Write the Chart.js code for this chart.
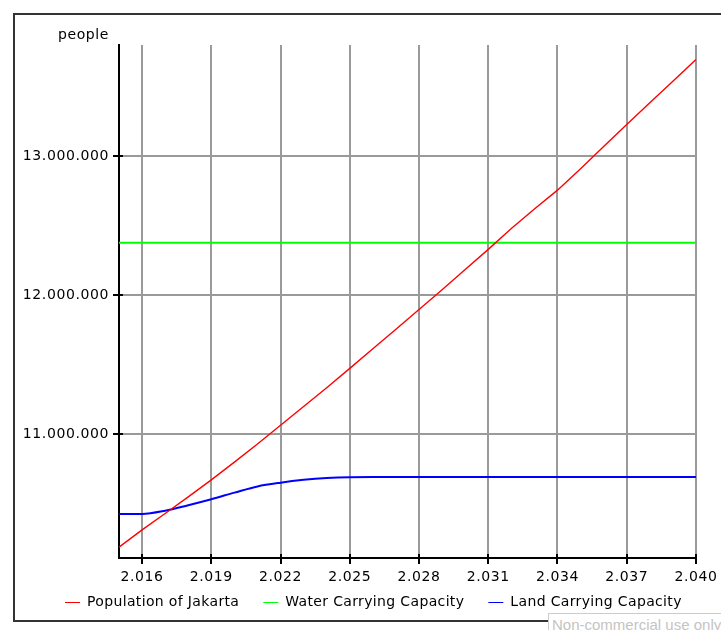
<!DOCTYPE html>
<html>
<head>
<meta charset="utf-8">
<script src="https://cdn.jsdelivr.net/npm/chart.js@4.4.1/dist/chart.umd.min.js"></script>
<style>
body { margin: 0; background: #fff; }
#wrap { position: relative; width: 721px; height: 630px; overflow: hidden; }
#frame { position: absolute; left: 13px; top: 13px; width: 730px; height: 605px; border: 2px solid #333; }
#myChart { position: absolute; left: 0; top: 0; }
#watermark { position: absolute; left: 548px; top: 613px; padding: 2px 3px; border: 1px solid #ccc; background: #fff; color: #c4c4c4; font: 15px "Liberation Sans"; line-height: 17px; white-space: nowrap; }
</style>
</head>
<body>
<div id="wrap">
  <div id="frame"></div>
  <canvas id="myChart" width="721" height="630"></canvas>
  <div id="watermark">Non-commercial use only</div>
</div>
<script>
const years = [2015, 2016, 2017, 2018, 2019, 2020, 2021, 2022, 2023, 2024, 2025, 2026, 2027,
               2028, 2029, 2030, 2031, 2032, 2033, 2034, 2035, 2036, 2037, 2038, 2039, 2040];
const population = [10188000, 10312000, 10430000, 10550000, 10672000, 10800000, 10930000, 11065000,
                    11200000, 11335000, 11474000, 11615000, 11755000, 11898000, 12040000, 12185000,
                    12330000, 12480000, 12620000, 12756000, 12910000, 13070000, 13228000, 13385000,
                    13540000, 13695000];
const waterCapacity = [12377000, 12377000, 12377000, 12377000, 12377000, 12377000, 12377000, 12377000,
                       12377000, 12377000, 12377000, 12377000, 12377000, 12377000, 12377000, 12377000,
                       12377000, 12377000, 12377000, 12377000, 12377000, 12377000, 12377000, 12377000,
                       12377000, 12377000];
const landCapacity = [10427000, 10427000, 10450000, 10490000, 10533000, 10580000, 10625000, 10652000,
                      10672000, 10685000, 10691000, 10692000, 10692000, 10692000, 10692000, 10692000,
                      10692000, 10692000, 10692000, 10692000, 10692000, 10692000, 10692000, 10692000,
                      10692000, 10692000];
const seriesNames = ['Population of Jakarta', 'Water Carrying Capacity', 'Land Carrying Capacity'];
const xTicks = [2016, 2019, 2022, 2025, 2028, 2031, 2034, 2037, 2040];
const yTicks = [11000000, 12000000, 13000000];
const unitLabel = 'people';

const FONT = '14px "DejaVu Sans"';

function dotted(v) {
    return String(v).replace(/\B(?=(\d{3})+(?!\d))/g, '.');
}

function points(values) {
    return years.map((yr, i) => ({ x: yr, y: values[i] }));
}

// text in the reference is a bit wider than the plain font, so space it out
const spacingPlugin = {
    id: 'spacing',
    beforeDraw(chart) {
        chart.ctx.letterSpacing = '0.6px';
    }
};

const extrasPlugin = {
    id: 'extras',
    afterDraw(chart) {
        const ctx = chart.ctx;
        const area = chart.chartArea;
        const xs = chart.scales.x;
        const ys = chart.scales.y;
        ctx.save();
        ctx.letterSpacing = '0.6px';
        ctx.font = FONT;
        ctx.fillStyle = '#000';

        // unit label above the y axis
        ctx.textAlign = 'right';
        ctx.textBaseline = 'alphabetic';
        ctx.fillText(unitLabel, area.left - 10, area.top - 6);

        // inner part of the tick marks
        ctx.strokeStyle = '#000';
        ctx.lineWidth = 2;
        ctx.beginPath();
        yTicks.forEach(v => {
            const y = Math.round(ys.getPixelForValue(v));
            ctx.moveTo(area.left, y);
            ctx.lineTo(area.left + 4, y);
        });
        xTicks.forEach(v => {
            const x = Math.round(xs.getPixelForValue(v));
            ctx.moveTo(x, area.bottom);
            ctx.lineTo(x, area.bottom - 4);
        });
        ctx.stroke();

        // legend
        ctx.letterSpacing = '0.35px';
        let x = 65;
        const y = 602;
        ctx.textAlign = 'left';
        ctx.textBaseline = 'middle';
        chart.data.datasets.forEach(ds => {
            ctx.strokeStyle = ds.borderColor;
            ctx.lineWidth = 1;
            ctx.beginPath();
            ctx.moveTo(x, y + 0.5);
            ctx.lineTo(x + 15, y + 0.5);
            ctx.stroke();
            ctx.fillStyle = '#000';
            ctx.fillText(ds.label, x + 22, y);
            x += 22 + ctx.measureText(ds.label).width + 24;
        });
        ctx.restore();
    }
};

const canvas = document.querySelector('#myChart').getContext('2d');
const chart = new Chart(canvas, {
    type: 'line',
    data: {
        datasets: [
            { label: seriesNames[0], data: points(population), borderColor: '#ff0000', borderWidth: 1.4 },
            { label: seriesNames[1], data: points(waterCapacity), borderColor: '#00ff00', borderWidth: 2 },
            { label: seriesNames[2], data: points(landCapacity), borderColor: '#0000ff', borderWidth: 2, cubicInterpolationMode: 'monotone' }
        ]
    },
    options: {
        responsive: false,
        animation: false,
        layout: { padding: { left: 0, top: 45, right: 21, bottom: 0 } },
        elements: { point: { radius: 0 }, line: { tension: 0 } },
        plugins: { legend: { display: false }, tooltip: { enabled: false } },
        scales: {
            x: {
                type: 'linear',
                min: 2015,
                max: 2040,
                afterBuildTicks: s => { s.ticks = xTicks.map(v => ({ value: v })); },
                afterFit: s => { s.height = 72; },
                grid: { color: '#9a9a9a', lineWidth: 2, tickColor: '#000', tickWidth: 2, tickLength: 6 },
                border: { color: '#000', width: 2 },
                ticks: {
                    color: '#000',
                    font: { family: 'DejaVu Sans', size: 14 },
                    padding: 5,
                    maxRotation: 0,
                    autoSkip: false,
                    callback: v => dotted(v)
                }
            },
            y: {
                min: 10110000,
                max: 13800000,
                afterBuildTicks: s => { s.ticks = yTicks.map(v => ({ value: v })); },
                afterFit: s => { s.width = 119; },
                grid: { color: '#9a9a9a', lineWidth: 2, tickColor: '#000', tickWidth: 2, tickLength: 6 },
                border: { color: '#000', width: 2 },
                ticks: {
                    color: '#000',
                    font: { family: 'DejaVu Sans', size: 14 },
                    padding: 4,
                    callback: v => dotted(v)
                }
            }
        }
    },
    plugins: [spacingPlugin, extrasPlugin]
});
</script>
</body>
</html>
